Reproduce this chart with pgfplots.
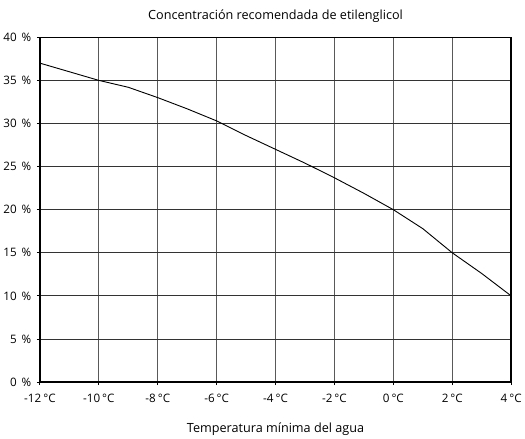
\documentclass[border=0pt]{standalone}
\usepackage{pgfplots}
\pgfplotsset{compat=1.18}
\usepackage{fontspec}
\setmainfont{Open Sans}
\begin{document}
\begin{tikzpicture}
\begin{axis}[
  scale only axis,
  width=466pt, height=341pt,
  xmin=-12, xmax=4, ymin=0, ymax=40,
  xtick={-12,-10,...,4}, ytick={0,5,...,40},
  xticklabel={\pgfmathprintnumber{\tick}\hspace{2pt}°C},
  yticklabel={\pgfmathprintnumber{\tick}\hspace{5pt}\%},
  /pgf/number format/assume math mode=true,
  tick label style={font=\fontsize{11.5}{13}\selectfont},
  xticklabel style={yshift=-5pt},
  yticklabel style={xshift=-2pt},
  grid=both,
  x grid style={gray!70!black, line width=0.9pt},
  y grid style={black!80, line width=0.9pt},
  axis line style={line width=1.5pt},
  tick style={black, line width=0.9pt},
  tick align=outside,
  major tick length=3pt,
  xtick pos=bottom, ytick pos=left,
  title={\rule{0pt}{16pt}Concentración recomendada de etilenglicol},
  title style={font=\fontsize{12.5}{14}\selectfont, yshift=5pt},
  xlabel={Temperatura mínima del agua},
  xlabel style={font=\fontsize{12.5}{14}\selectfont, yshift=-13pt},
]
\addplot[black, line width=0.9pt] coordinates {
(-12,37) (-10,35) (-9,34.2) (-8,33) (-7,31.7) (-6,30.3) (-5,28.6) (-4,27)
(-3,25.4) (-2,23.7) (-1,21.9) (0,20) (1,17.8) (2,15) (3,12.6) (4,10)
};
\end{axis}
\end{tikzpicture}
\end{document}
